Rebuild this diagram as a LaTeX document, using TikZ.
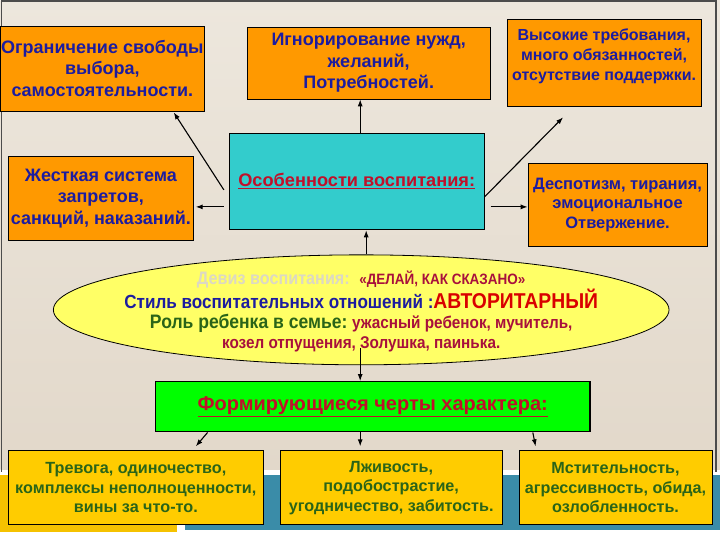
\documentclass[tikz,border=0pt]{standalone}
\usepackage{fontspec}
\setmainfont{Liberation Sans}
\newfontfamily\narrowfont{Liberation Sans}[FakeStretch=0.9]
\usetikzlibrary{shapes.geometric,arrows.meta}

\definecolor{boxorange}{HTML}{FF9900}
\definecolor{boxcyan}{HTML}{33CCCC}
\definecolor{boxyellow}{HTML}{FFFF66}
\definecolor{boxgreen}{HTML}{00FF00}
\definecolor{boxgold}{HTML}{FFCC00}
\definecolor{textblue}{HTML}{1C1CA0}
\definecolor{textgreen}{HTML}{2A6418}
\definecolor{textred}{HTML}{C0102A}
\definecolor{textcrimson}{HTML}{A8103C}
\definecolor{textpale}{HTML}{DCD8C4}
\definecolor{bgtop}{HTML}{EDE7DD}
\definecolor{bgbottom}{HTML}{E2D8CA}
\definecolor{bandgold}{HTML}{F5C200}
\definecolor{bandteal}{HTML}{3A8CA8}

\begin{document}
\begin{tikzpicture}[x=1pt, y=-1pt, >={Latex[length=7pt, width=5pt]}, line width=1.1pt]
	\tikzstyle{orangebox} = [rectangle, draw=black, line width=0.8pt, fill=boxorange, align=center, inner sep=0pt, text=textblue, font=\bfseries\fontsize{18}{21.5}\selectfont]
	\tikzstyle{goldbox}   = [rectangle, draw=black, line width=0.8pt, fill=boxgold, align=center, inner sep=0pt, text=textgreen, font=\bfseries\fontsize{16.2}{19.5}\selectfont, minimum height=74pt]
	\tikzstyle{redhead}   = [text=textred, font=\bfseries\fontsize{18.2}{20}\selectfont]

	% background
	\shade[top color=bgtop, bottom color=bgbottom] (0,0) rectangle (720,470);
	\fill[white] (0,470) rectangle (720,540);
	\fill[bandgold] (0,475) rectangle (177,532);
	\fill[bandteal] (185,475) rectangle (720,530);
	\draw[black!70, line width=1.5pt] (1,472) -- (1,1) -- (716,1) -- (716,472);

	% top boxes
	\node[orangebox, minimum width=204pt, minimum height=85pt] (ogr) at (102,68.5)
		{Ограничение свободы\\ выбора,\\ самостоятельности.};
	\node[orangebox, minimum width=243pt, minimum height=72pt] (ign) at (368.5,63)
		{Игнорирование нужд,\\ желаний,\\ Потребностей.};
	\node[orangebox, minimum width=194pt, minimum height=87pt] (vys) at (604,62.5) {};
	\node[text=textblue, align=center, anchor=north, font=\bfseries\fontsize{16}{20}\selectfont] (vystxt) at ([yshift=-6pt]vys.north)
		{Высокие требования,\\ много обязанностей,\\ отсутствие поддержки.};

	% middle row
	\node[orangebox, minimum width=185pt, minimum height=85pt] (zhes) at (100.5,198.5)
		{Жесткая система\\ запретов,\\ санкций, наказаний.};
	\node[rectangle, draw=black, line width=0.8pt, fill=boxcyan, minimum width=255pt, minimum height=97pt, redhead] (osob) at (356.5,181.5)
		{\underline{Особенности воспитания:}};
	\node[orangebox, minimum width=179pt, minimum height=84pt, font=\bfseries\fontsize{16.5}{19.5}\selectfont] (desp) at (617.5,205)
		{Деспотизм, тирания,\\ эмоциональное\\ Отвержение.};

	% ellipse
	\node[ellipse, draw=black, line width=0.8pt, fill=boxyellow, minimum width=616pt, minimum height=110pt] (stil) at (361,310) {};
	\node[align=center, font=\narrowfont\bfseries\fontsize{19}{20}\selectfont] (stiltxt) at (361,312)
		{\textcolor{textpale}{\fontsize{18}{20}\selectfont Девиз воспитания:}\ \ \textcolor{textcrimson}{\fontsize{15}{20}\selectfont«ДЕЛАЙ, КАК СКАЗАНО»}\\
		 \textcolor{textblue}{Стиль воспитательных отношений :}\textcolor{red!85!black}{\fontsize{21.5}{20}\selectfont АВТОРИТАРНЫЙ}\\
		 \textcolor{textgreen}{\fontsize{19.5}{20}\selectfont Роль ребенка в семье:}\ \textcolor{textcrimson}{\fontsize{17}{20}\selectfont ужасный ребенок, мучитель,}\\
		 \textcolor{textcrimson}{\fontsize{17}{20}\selectfont козел отпущения, Золушка, паинька.}};

	% traits
	\node[rectangle, draw=black, line width=1.4pt, fill=boxgreen, minimum width=435pt, minimum height=50pt, redhead, font=\bfseries\fontsize{20}{22}\selectfont] (cherty) at (372.5,407)
		{\underline{Формирующиеся черты характера:}};
	\node[goldbox, minimum width=255pt] (trev) at (135.5,488)
		{Тревога, одиночество,\\ комплексы неполноценности,\\ вины за что-то.};
	\node[goldbox, minimum width=222pt] (lzh) at (391,488)
		{Лживость,\\ подобострастие,\\ угодничество, забитость.};
	\node[goldbox, minimum width=193pt] (mst) at (615.5,488)
		{Мстительность,\\ агрессивность, обида,\\ озлобленность.};

	% connectors
	\draw[->] ([xshift=-5pt, yshift=-8.5pt]osob.west) -- ([xshift=-31pt, yshift=-1pt]ogr.south east);
	\draw[->] ([xshift=-5pt]osob.west |- 0,207) -- ([xshift=2pt]zhes.east |- 0,207);
	\draw[->] ([xshift=3.5pt]osob.north) -- ([xshift=3.5pt]osob.north |- ign.south);
	\draw[->] ([yshift=-15.5pt]osob.east) -- ([xshift=-41pt, yshift=-11pt]vys.south);
	\draw[->] ([xshift=6pt]osob.east |- 0,207) -- (desp.west |- 0,207);
	\draw[->] ([xshift=9.5pt]osob.south |- stil.north) -- ([xshift=9.5pt]osob.south);
	\draw[->] ([xshift=-1pt, yshift=-38pt]stil.center) -- ([xshift=-1pt]stil.center |- cherty.north);

	\draw[->] ([xshift=53pt]cherty.south west) -- ([xshift=60pt, yshift=4pt]trev.north);
	\draw[->] ([xshift=-12.5pt]cherty.south) -- ([xshift=-12.5pt, yshift=4pt]cherty.south |- lzh.north);
	\draw[->] ([xshift=-58pt]cherty.south east) -- ([xshift=-80pt, yshift=4pt]mst.north);
\end{tikzpicture}
\end{document}
